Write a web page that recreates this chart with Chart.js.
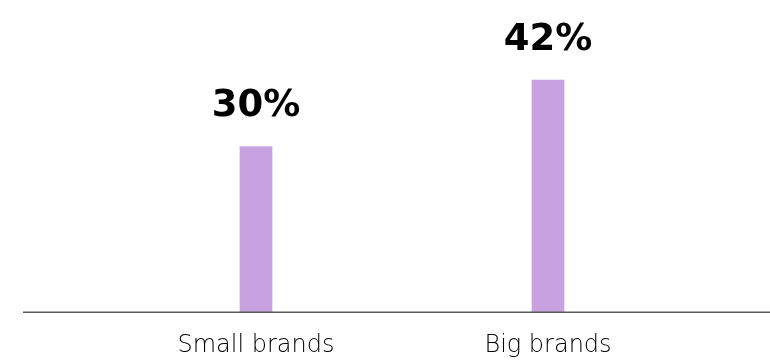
<!DOCTYPE html>
<html>
<head>
<meta charset="utf-8">
<script src="https://cdn.jsdelivr.net/npm/chart.js@4.4.0/dist/chart.umd.min.js"></script>
<style>
  html, body { margin: 0; padding: 0; background: #fff; }
  #wrap { width: 770px; height: 364px; position: relative; }
</style>
</head>
<body>
<div id="wrap"><canvas id="chart"></canvas></div>
<script>
const categories = ['Small brands', 'Big brands'];
const shares = [30, 42];
const valueLabels = ['30%', '42%'];

// baseline across the whole width + value labels over bars
const extras = {
  id: 'extras',
  afterDatasetsDraw(chart) {
    const c = chart.ctx;
    const y0 = chart.scales.y.getPixelForValue(0);
    c.save();
    c.strokeStyle = '#5a5a5a';
    c.lineWidth = 1.5;
    c.beginPath();
    c.moveTo(23, y0);
    c.lineTo(chart.width, y0);
    c.stroke();

    c.fillStyle = '#000';
    c.font = 'bold 37px "DejaVu Sans", sans-serif';
    c.textAlign = 'center';
    c.textBaseline = 'alphabetic';
    chart.getDatasetMeta(0).data.forEach(function(bar, i) {
      c.fillText(valueLabels[i], bar.x, bar.y - 30);
    });
    c.restore();
  }
};

const ctx = document.getElementById('chart');
new Chart(ctx, {
  type: 'bar',
  data: {
    labels: categories,
    datasets: [{
      data: shares,
      backgroundColor: '#c8a2e0',
      barThickness: 32
    }]
  },
  options: {
    responsive: true,
    maintainAspectRatio: false,
    animation: false,
    layout: { padding: { left: 110, right: 76, top: 36, bottom: -15 } },
    plugins: { legend: { display: false }, tooltip: { enabled: false } },
    scales: {
      x: {
        grid: { display: false, drawTicks: false },
        border: { display: false },
        ticks: {
          color: '#000',
          padding: 19,
          font: { family: '"DejaVu Sans", sans-serif', size: 24, weight: '200' }
        }
      },
      y: {
        display: false,
        min: 0,
        max: 50
      }
    }
  },
  plugins: [extras]
});
</script>
</body>
</html>
